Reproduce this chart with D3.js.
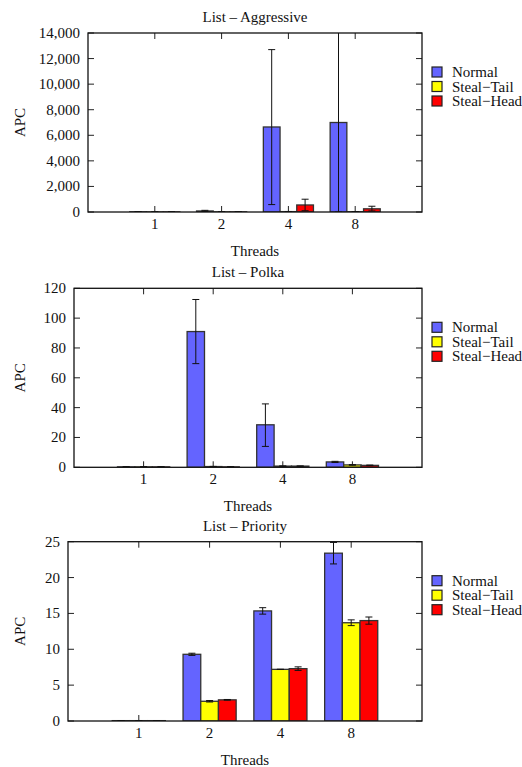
<head></head>
<body style="margin:0;background:#fff">
    <div id='dashboard'></div>
</body>
<script src='https://cdn.jsdelivr.net/npm/d3@7/dist/d3.min.js'></script>
<script>
    var width = 522,
        height = 767;

    var threads = ['1', '2', '4', '8'];
    var series = ['Normal', 'Steal-Tail', 'Steal-Head'];
    var colors = ['#6464ff', '#ffff00', '#ff0000'];

    // [mean, low, high] per thread, per series
    var aggressive_normal = [[15, 10, 20], [80, 40, 130], [6650, 580, 12700], [7000, 0, 16000]];
    var aggressive_tail = [[8, 5, 10], [10, 5, 15], [30, 20, 40], [20, 10, 30]];
    var aggressive_head = [[10, 5, 15], [12, 5, 20], [550, 100, 1000], [250, 80, 450]];

    var polka_normal = [[0.3, 0.2, 0.4], [91, 69.5, 112.5], [28.5, 14, 42.5], [3.6, 3.2, 4]];
    var polka_tail = [[0.3, 0.2, 0.4], [0.5, 0.4, 0.6], [0.8, 0.7, 0.9], [1.6, 1.4, 1.8]];
    var polka_head = [[0.3, 0.2, 0.4], [0.3, 0.2, 0.4], [0.8, 0.7, 0.9], [1.3, 1.1, 1.5]];

    var priority_normal = [[0.05, 0.04, 0.06], [9.3, 9.15, 9.45], [15.35, 14.9, 15.8], [23.4, 21.9, 24.9]];
    var priority_tail = [[0.05, 0.04, 0.06], [2.75, 2.65, 2.85], [7.2, 7.18, 7.22], [13.7, 13.3, 14.1]];
    var priority_head = [[0.05, 0.04, 0.06], [2.95, 2.9, 3.0], [7.3, 7.05, 7.55], [14.0, 13.5, 14.5]];

    var panels = [
        {title: 'List \u2013 Aggressive', ymax: 14000, ystep: 2000, fmt: ',', data: [aggressive_normal, aggressive_tail, aggressive_head],
         left: 88, top: 33, bottom: 212},
        {title: 'List \u2013 Polka', ymax: 120, ystep: 20, fmt: 'd', data: [polka_normal, polka_tail, polka_head],
         left: 74, top: 288.3, bottom: 467.3},
        {title: 'List \u2013 Priority', ymax: 25, ystep: 5, fmt: 'd', data: [priority_normal, priority_tail, priority_head],
         left: 68, top: 541.7, bottom: 721}
    ];

    var right = 422,
        tick_len = 6,
        bar_w = 0.25,
        font = "'Liberation Serif', 'Times New Roman', serif";

    var svg = d3.select('#dashboard')
        .append('svg')
        .attr('width', width)
        .attr('height', height)
        .style('font-family', font)
        .style('font-size', '15px')
        .style('fill', '#111');

    panels.forEach(function(p, pi){
        var x = d3.scaleLinear().domain([0, 5]).range([p.left, right]);
        var y = d3.scaleLinear().domain([0, p.ymax]).range([p.bottom, p.top]);
        var yticks = d3.range(0, p.ymax + p.ystep / 2, p.ystep);
        var g = svg.append('g');

        g.append('clipPath').attr('id', 'clip' + pi)
            .append('rect')
            .attr('x', p.left).attr('y', p.top)
            .attr('width', right - p.left).attr('height', p.bottom - p.top);

        g.append('text')
            .attr('x', (p.left + right) / 2).attr('y', p.top - 11)
            .attr('text-anchor', 'middle')
            .text(p.title);

        // y ticks (mirrored on right side)
        yticks.forEach(function(v){
            g.append('path')
                .attr('d', 'M' + p.left + ',' + y(v) + 'h' + tick_len + 'M' + right + ',' + y(v) + 'h' + (-tick_len))
                .attr('stroke', '#222').attr('stroke-width', 1);
            g.append('text')
                .attr('x', p.left - 8).attr('y', y(v) + 5)
                .attr('text-anchor', 'end')
                .text(d3.format(p.fmt)(v));
        });

        // x ticks (mirrored on top)
        threads.forEach(function(t, i){
            var xv = x(i + 1);
            g.append('path')
                .attr('d', 'M' + xv + ',' + p.bottom + 'v' + (-tick_len) + 'M' + xv + ',' + p.top + 'v' + tick_len)
                .attr('stroke', '#222').attr('stroke-width', 1);
            g.append('text')
                .attr('x', xv).attr('y', p.bottom + 17)
                .attr('text-anchor', 'middle')
                .text(t);
        });

        var bars = g.append('g').attr('clip-path', 'url(#clip' + pi + ')');

        series.forEach(function(s, si){
            var offset = (si - 1) * bar_w;
            bars.selectAll('rect.s' + si)
                .data(p.data[si])
                .enter().append('rect')
                .attr('class', 's' + si)
                .attr('x', function(d, i){ return x(i + 1 + offset - bar_w / 2); })
                .attr('width', x(bar_w) - x(0))
                .attr('y', function(d){ return y(d[0]); })
                .attr('height', function(d){ return y(0) - y(d[0]); })
                .attr('fill', colors[si])
                .attr('stroke', '#333')
                .attr('stroke-width', 1.3);
        });

        series.forEach(function(s, si){
            var offset = (si - 1) * bar_w;
            bars.selectAll('path.e' + si)
                .data(p.data[si])
                .enter().append('path')
                .attr('class', 'e' + si)
                .attr('d', function(d, i){
                    var cx = x(i + 1 + offset);
                    return 'M' + cx + ',' + y(d[1]) + 'V' + y(d[2]) +
                        'M' + (cx - 3.5) + ',' + y(d[1]) + 'h7' +
                        'M' + (cx - 3.5) + ',' + y(d[2]) + 'h7';
                })
                .attr('fill', 'none')
                .attr('stroke', '#111')
                .attr('stroke-width', 1);
        });

        g.append('rect')
            .attr('x', p.left).attr('y', p.top)
            .attr('width', right - p.left).attr('height', p.bottom - p.top)
            .attr('fill', 'none')
            .attr('stroke', '#111')
            .attr('stroke-width', 1.3);

        g.append('text')
            .attr('transform', 'translate(25,' + (p.top + p.bottom) / 2 + ') rotate(-90)')
            .attr('text-anchor', 'middle')
            .text('APC');

        g.append('text')
            .attr('x', (p.left + right) / 2).attr('y', p.bottom + 44)
            .attr('text-anchor', 'middle')
            .text('Threads');

        // legend
        series.forEach(function(s, si){
            var ly = p.top + 39 + si * 14.5;
            g.append('rect')
                .attr('x', 432).attr('y', ly - 5)
                .attr('width', 10).attr('height', 10)
                .attr('fill', colors[si])
                .attr('stroke', '#222').attr('stroke-width', 1.2);
            g.append('text')
                .attr('x', 452).attr('y', ly + 5)
                .text(s.replace('-', '\u2212'));
        });
    });
</script>
